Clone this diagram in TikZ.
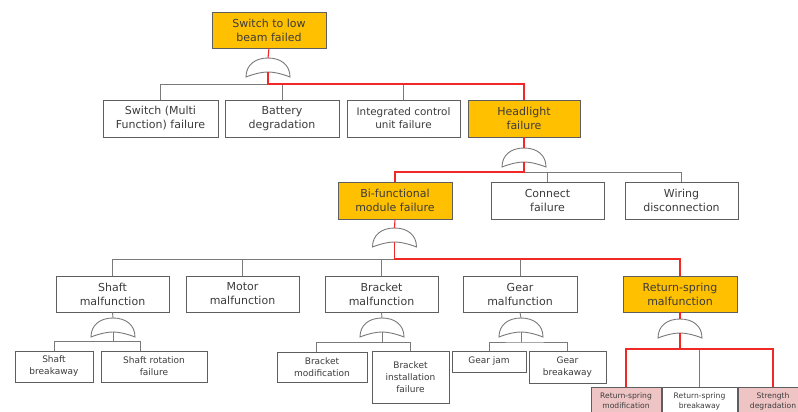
\documentclass[tikz,border=0pt]{standalone}
\usepackage{fontspec}
\setmainfont{DejaVu Sans}
\definecolor{boxline}{HTML}{5E5E5E}
\definecolor{lgray}{HTML}{7A7A7A}
\definecolor{lred}{HTML}{F02828}
\definecolor{orangef}{HTML}{FFC000}
\definecolor{pinkf}{HTML}{EEC4C4}
\definecolor{txt}{HTML}{3C3C3C}
\newcommand{\mainsz}{\fontsize{11}{14}\selectfont}
\newcommand{\smallsz}{\fontsize{9}{12}\selectfont}
\newcommand{\tinysz}{\fontsize{7.6}{10}\selectfont}
\tikzset{
 box/.style={draw=boxline, line width=0.9pt, fill=white, align=center, text=txt, inner sep=1pt, font=\mainsz},
 hot/.style={box, fill=orangef},
 sbox/.style={box, font=\smallsz},
 tbox/.style={box, font=\tinysz},
 pinkb/.style={tbox, fill=pinkf},
 ln/.style={draw=lgray, line width=0.9pt},
 rd/.style={draw=lred, line width=1.1pt},
 gateshape/.style={draw=lgray, fill=white, line width=0.9pt},
 pics/orgate/.style={code={
   \draw[gateshape] (-22,19) .. controls (-22,7) and (-13,0) .. (0,0)
     .. controls (13,0) and (22,7) .. (22,19)
     .. controls (12,15) and (4,14) .. (0,14)
     .. controls (-4,14) and (-12,15) .. (-22,19) -- cycle;
   \coordinate (-t) at (0,0);
   \coordinate (-b) at (0,14);
 }}
}
\begin{document}
\begin{tikzpicture}[x=1pt,y=-1pt]
\useasboundingbox (0,0) rectangle (798,412);
\clip (0,0) rectangle (798,412);
% level 1
\node[hot, minimum width=114pt, minimum height=36pt] (top) at (269,30) {Switch to low\\beam failed};
\pic (g1) at (268,58) {orgate};
% level 2
\node[box, minimum width=115pt, minimum height=37pt] (sw) at (160.5,118.5) {Switch (Multi\\Function) failure};
\node[box, minimum width=114pt, minimum height=37pt] (bat) at (282,118.5) {Battery\\degradation};
\node[box, minimum width=113pt, minimum height=37pt, font=\fontsize{10.4}{13}\selectfont] (icu) at (403.5,118.5) {Integrated control\\unit failure};
\node[hot, minimum width=112pt, minimum height=37pt] (head) at (524,118.5) {Headlight\\failure};
\pic (g2) at (524,148) {orgate};
% level 3
\node[hot, minimum width=114pt, minimum height=37pt] (bif) at (395,200.5) {Bi-functional\\module failure};
\node[box, minimum width=113pt, minimum height=37pt] (con) at (547.5,200.5) {Connect\\failure};
\node[box, minimum width=113pt, minimum height=37pt] (wir) at (681.5,200.5) {Wiring\\disconnection};
\pic (g3) at (394.5,228) {orgate};
% level 4
\node[box, minimum width=113pt, minimum height=36pt] (shaft) at (112.5,294) {Shaft\\malfunction};
\node[box, minimum width=113pt, minimum height=36pt] (motor) at (242.5,294) {Motor\\malfunction};
\node[box, minimum width=113pt, minimum height=36pt] (bracket) at (381.5,294) {Bracket\\malfunction};
\node[box, minimum width=114pt, minimum height=36pt] (gear) at (520,294) {Gear\\malfunction};
\node[hot, minimum width=114pt, minimum height=36pt] (ret) at (680,294) {Return-spring\\malfunction};
\pic (g4) at (113,318) {orgate};
\pic (g5) at (382,318) {orgate};
\pic (g6) at (521,318) {orgate};
\pic (g7) at (680,319) {orgate};
% level 5
\node[sbox, minimum width=78pt, minimum height=31pt] (sbk) at (54,366.5) {Shaft\\breakaway};
\node[sbox, minimum width=106pt, minimum height=31pt] (srf) at (154,366.5) {Shaft rotation\\failure};
\node[sbox, minimum width=90pt, minimum height=30pt] (bmod) at (322,367) {Bracket\\modification};
\node[sbox, minimum width=77pt, minimum height=52pt] (binst) at (410.5,377) {Bracket\\installation\\failure};
\node[sbox, minimum width=74pt, minimum height=21pt] (gjam) at (489,361.5) {Gear jam};
\node[sbox, minimum width=77pt, minimum height=32pt] (gbrk) at (567.5,367) {Gear\\breakaway};
\node[pinkb, minimum width=70pt, minimum height=28pt] (rmod) at (626,401) {Return-spring\\modification};
\node[tbox, minimum width=75pt, minimum height=28pt] (rbrk) at (699.5,401) {Return-spring\\breakaway};
\node[pinkb, minimum width=70pt, minimum height=28pt] (rstr) at (773,401) {Strength\\degradation};
% coordinates of buses
\coordinate (b1) at (268,84);
\coordinate (b2) at (524,172);
\coordinate (b3) at (394.5,259);
\coordinate (b4) at (113,341);
\coordinate (c4r) at (140,341);
\coordinate (b5l) at (316,342);
\coordinate (b5r) at (410,342);
\coordinate (b6) at (521,342);
\coordinate (b7) at (680,349);
% gray connectors
\draw[ln] (sw.north) |- (b1);
\draw[ln] (bat.north) -- (bat.north |- b1);
\draw[ln] (icu.north) -- (icu.north |- b1);
\draw[ln] (b2) -| (con.north);
\draw[ln] (b2) -| (wir.north);
\draw[ln] (b3) -| (shaft.north);
\draw[ln] (b3) -| (motor.north);
\draw[ln] (b3) -| (bracket.north);
\draw[ln] (gear.north) -- (gear.north |- b3);
\draw[ln] (shaft.south) -- (g4-t);
\draw[ln] (bracket.south) -- (g5-t);
\draw[ln] (gear.south) -- (g6-t);
\draw[ln] (g4-b) -- (b4);
\draw[ln] (sbk.north) |- (c4r) -- (srf.north -| c4r);
\draw[ln] (g5-b) -- (g5-b |- b5l);
\draw[ln] (bmod.north -| b5l) -- (b5l) -- (b5r) -- (binst.north -| b5r);
\draw[ln] (g6-b) -- (b6);
\draw[ln] (gjam.north) |- (b6) -| (gbrk.north);
\draw[ln] (rbrk.north) -- (rbrk.north |- b7);
% red path
\draw[rd] (top.south) -- (g1-t);
\draw[rd] (g1-b) -- (b1) -| (head.north);
\draw[rd] (head.south) -- (g2-t);
\draw[rd] (g2-b) -- (b2) -| (bif.north);
\draw[rd] (bif.south) -- (g3-t);
\draw[rd] (g3-b) -- (b3) -| (ret.north);
\draw[rd] (ret.south) -- (g7-t);
\draw[rd] (g7-b) -- (b7);
\draw[rd] (rmod.north) |- (b7) -| (rstr.north);
\end{tikzpicture}
\end{document}
